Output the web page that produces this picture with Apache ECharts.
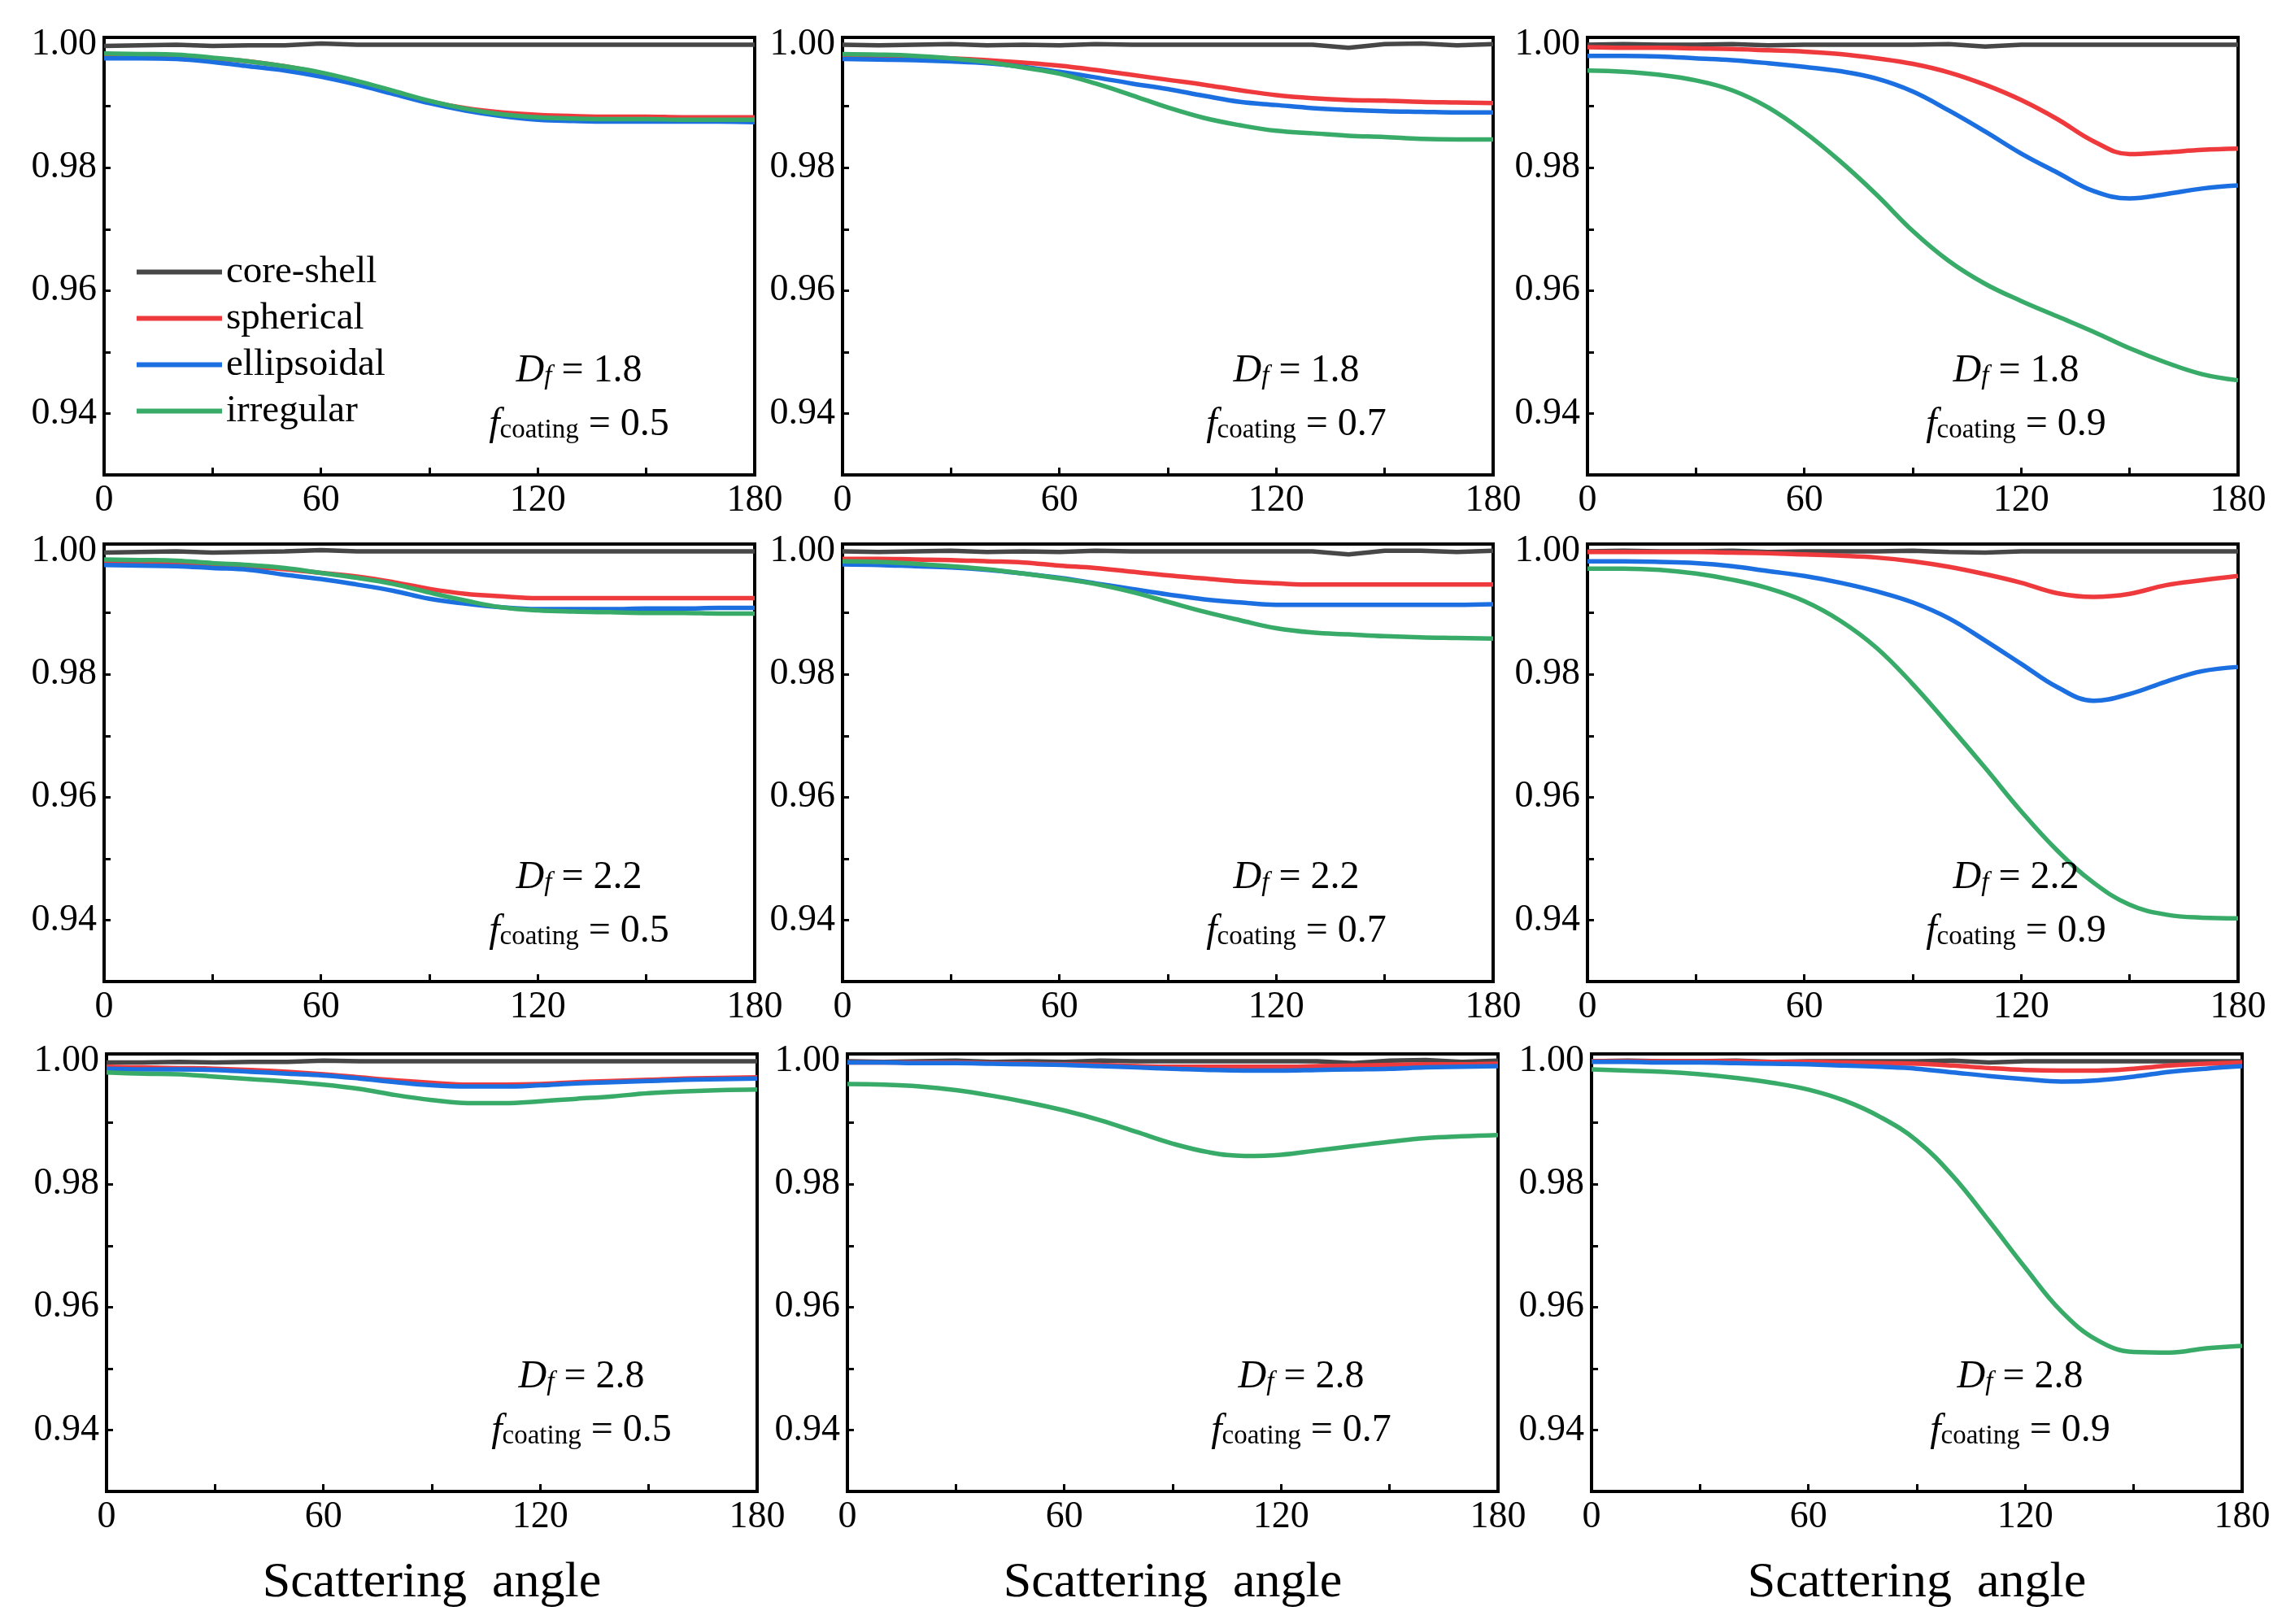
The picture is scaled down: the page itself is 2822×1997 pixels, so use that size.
<!DOCTYPE html>
<html>
<head>
<meta charset="utf-8">
<script src="https://cdn.jsdelivr.net/npm/echarts@6/dist/echarts.min.js"></script>
<style>
  html, body { margin: 0; padding: 0; background: #fff; }
  #chart { width: 2822px; height: 1997px; }
</style>
</head>
<body>
<div id="chart"></div>
<script>
// scattering angle (deg), shared by every curve
var angles = [0,10,20,30,40,50,60,70,80,90,100,110,120,130,140,150,160,170,180];
var names = ['core-shell','spherical','ellipsoidal','irregular'];
var colors = ['#474747','#ef3a3d','#1b6fe0','#38ab69'];
var xTicks = [0,60,120,180];
var yTicks = [0.94,0.96,0.98,1.00];

// Df = 1.8, f = 0.5
var cs_18_05 = [0.9998,0.9999,1.0000,0.9998,0.9999,0.9999,1.0002,1.0000,1.0000,1.0000,1.0000,1.0000,1.0000,1.0000,1.0000,1.0000,1.0000,1.0000,1.0000];
var sp_18_05 = [0.9983,0.9982,0.9981,0.9978,0.9973,0.9965,0.9954,0.9940,0.9923,0.9908,0.9897,0.9890,0.9886,0.9884,0.9883,0.9883,0.9882,0.9882,0.9882];
var el_18_05 = [0.9978,0.9978,0.9977,0.9972,0.9965,0.9958,0.9948,0.9935,0.9920,0.9905,0.9893,0.9884,0.9878,0.9876,0.9875,0.9875,0.9875,0.9875,0.9874];
var ir_18_05 = [0.9986,0.9985,0.9984,0.9979,0.9973,0.9965,0.9955,0.9941,0.9925,0.9909,0.9896,0.9887,0.9882,0.9880,0.9879,0.9879,0.9878,0.9878,0.9878];
// Df = 1.8, f = 0.7
var cs_18_07 = [1.0000,0.9999,1.0000,1.0001,0.9999,1.0000,0.9999,1.0001,1.0000,1.0000,1.0000,1.0000,1.0000,1.0000,0.9995,1.0001,1.0002,0.9999,1.0001];
var sp_18_07 = [0.9982,0.9981,0.9980,0.9978,0.9975,0.9971,0.9966,0.9959,0.9951,0.9943,0.9935,0.9926,0.9918,0.9913,0.9910,0.9909,0.9907,0.9906,0.9905];
var el_18_07 = [0.9977,0.9976,0.9975,0.9973,0.9970,0.9964,0.9956,0.9947,0.9937,0.9928,0.9917,0.9907,0.9902,0.9897,0.9894,0.9892,0.9891,0.9890,0.9890];
var ir_18_07 = [0.9985,0.9984,0.9982,0.9978,0.9972,0.9963,0.9953,0.9937,0.9918,0.9898,0.9881,0.9869,0.9860,0.9856,0.9852,0.9850,0.9847,0.9846,0.9846];
// Df = 1.8, f = 0.9
var cs_18_09 = [1.0000,1.0001,1.0000,1.0000,1.0001,0.9999,1.0000,1.0000,1.0000,1.0000,1.0001,0.9997,1.0000,1.0000,1.0000,1.0000,1.0000,1.0000,1.0000];
var sp_18_09 = [0.9996,0.9995,0.9995,0.9994,0.9993,0.9991,0.9989,0.9985,0.9978,0.9969,0.9955,0.9935,0.9910,0.9879,0.9843,0.9822,0.9825,0.9829,0.9831];
var el_18_09 = [0.9982,0.9982,0.9981,0.9978,0.9975,0.9970,0.9964,0.9957,0.9945,0.9924,0.9893,0.9859,0.9823,0.9792,0.9762,0.9750,0.9757,0.9766,0.9771];
var ir_18_09 = [0.9958,0.9956,0.9951,0.9942,0.9926,0.9898,0.9858,0.9810,0.9756,0.9697,0.9648,0.9611,0.9583,0.9558,0.9533,0.9506,0.9483,0.9464,0.9454];
// Df = 2.2, f = 0.5
var cs_22_05 = [0.9998,0.9999,1.0000,0.9998,0.9999,1.0000,1.0002,1.0000,1.0000,1.0000,1.0000,1.0000,1.0000,1.0000,1.0000,1.0000,1.0000,1.0000,1.0000];
var sp_22_05 = [0.9981,0.9980,0.9979,0.9978,0.9975,0.9971,0.9965,0.9959,0.9950,0.9939,0.9931,0.9927,0.9924,0.9924,0.9924,0.9924,0.9924,0.9924,0.9924];
var el_22_05 = [0.9978,0.9977,0.9976,0.9973,0.9970,0.9962,0.9955,0.9946,0.9936,0.9923,0.9915,0.9909,0.9906,0.9906,0.9906,0.9907,0.9907,0.9908,0.9908];
var ir_22_05 = [0.9987,0.9986,0.9985,0.9981,0.9978,0.9973,0.9965,0.9957,0.9947,0.9933,0.9920,0.9909,0.9904,0.9902,0.9901,0.9900,0.9900,0.9899,0.9899];
// Df = 2.2, f = 0.7
var cs_22_07 = [1.0000,0.9999,1.0000,1.0001,0.9999,1.0000,0.9999,1.0001,1.0000,1.0000,1.0000,1.0000,1.0000,1.0000,0.9995,1.0001,1.0001,0.9999,1.0001];
var sp_22_07 = [0.9988,0.9988,0.9987,0.9986,0.9984,0.9982,0.9977,0.9973,0.9967,0.9961,0.9956,0.9951,0.9948,0.9946,0.9946,0.9946,0.9946,0.9946,0.9946];
var el_22_07 = [0.9979,0.9978,0.9976,0.9974,0.9970,0.9964,0.9957,0.9948,0.9939,0.9930,0.9922,0.9917,0.9913,0.9913,0.9913,0.9913,0.9913,0.9913,0.9914];
var ir_22_07 = [0.9984,0.9983,0.9980,0.9976,0.9971,0.9964,0.9956,0.9947,0.9934,0.9918,0.9902,0.9888,0.9875,0.9868,0.9865,0.9862,0.9860,0.9859,0.9858];
// Df = 2.2, f = 0.9
var cs_22_09 = [1.0000,1.0001,1.0000,1.0000,1.0001,0.9999,1.0000,1.0000,1.0000,1.0001,0.9999,0.9998,1.0000,1.0000,1.0000,1.0000,1.0000,1.0000,1.0000];
var sp_22_09 = [0.9999,0.9999,0.9999,0.9999,0.9998,0.9997,0.9995,0.9993,0.9990,0.9984,0.9975,0.9963,0.9949,0.9932,0.9926,0.9931,0.9945,0.9953,0.9960];
var el_22_09 = [0.9984,0.9984,0.9983,0.9981,0.9976,0.9968,0.9960,0.9949,0.9935,0.9917,0.9891,0.9855,0.9817,0.9779,0.9757,0.9768,0.9788,0.9805,0.9812];
var ir_22_09 = [0.9972,0.9972,0.9970,0.9964,0.9954,0.9940,0.9919,0.9887,0.9843,0.9784,0.9717,0.9648,0.9577,0.9513,0.9461,0.9425,0.9409,0.9404,0.9403];
// Df = 2.8, f = 0.5
var cs_28_05 = [0.9998,0.9998,0.9999,0.9998,0.9999,0.9999,1.0001,1.0000,1.0000,1.0000,1.0000,1.0000,1.0000,1.0000,1.0000,1.0000,1.0000,1.0000,1.0000];
var sp_28_05 = [0.9991,0.9990,0.9989,0.9988,0.9986,0.9983,0.9979,0.9974,0.9969,0.9965,0.9962,0.9962,0.9963,0.9966,0.9968,0.9970,0.9972,0.9973,0.9974];
var el_28_05 = [0.9988,0.9987,0.9987,0.9986,0.9983,0.9980,0.9977,0.9972,0.9966,0.9961,0.9959,0.9959,0.9961,0.9964,0.9966,0.9968,0.9970,0.9971,0.9972];
var ir_28_05 = [0.9982,0.9980,0.9979,0.9975,0.9971,0.9967,0.9962,0.9955,0.9945,0.9937,0.9932,0.9932,0.9935,0.9939,0.9943,0.9948,0.9951,0.9953,0.9954];
// Df = 2.8, f = 0.7
var cs_28_07 = [1.0000,0.9999,1.0000,1.0001,0.9999,1.0000,0.9999,1.0001,1.0000,1.0000,1.0000,1.0000,1.0000,1.0000,0.9997,1.0001,1.0002,0.9999,1.0001];
var sp_28_07 = [0.9998,0.9998,0.9998,0.9998,0.9997,0.9996,0.9995,0.9994,0.9992,0.9991,0.9991,0.9991,0.9991,0.9992,0.9993,0.9994,0.9995,0.9995,0.9996];
var el_28_07 = [0.9998,0.9998,0.9997,0.9997,0.9996,0.9995,0.9994,0.9992,0.9990,0.9988,0.9986,0.9985,0.9985,0.9986,0.9987,0.9988,0.9990,0.9991,0.9992];
var ir_28_07 = [0.9963,0.9962,0.9959,0.9953,0.9944,0.9933,0.9920,0.9904,0.9885,0.9866,0.9852,0.9846,0.9848,0.9855,0.9862,0.9869,0.9875,0.9878,0.9880];
// Df = 2.8, f = 0.9
var cs_28_09 = [1.0000,1.0001,1.0000,1.0000,1.0001,0.9999,1.0000,1.0000,1.0000,1.0000,1.0001,0.9998,1.0000,1.0000,1.0000,1.0000,1.0000,1.0000,1.0000];
var sp_28_09 = [1.0000,1.0000,1.0000,1.0000,1.0000,0.9999,0.9999,0.9998,0.9997,0.9996,0.9993,0.9989,0.9986,0.9985,0.9985,0.9988,0.9993,0.9996,0.9998];
var el_28_09 = [0.9999,0.9999,0.9998,0.9998,0.9997,0.9996,0.9995,0.9993,0.9991,0.9988,0.9982,0.9976,0.9971,0.9967,0.9969,0.9975,0.9983,0.9988,0.9992];
var ir_28_09 = [0.9987,0.9985,0.9983,0.9979,0.9973,0.9965,0.9954,0.9936,0.9909,0.9871,0.9813,0.9740,0.9664,0.9593,0.9546,0.9527,0.9526,0.9533,0.9537];

var panels = [
  {df:'1.8', fc:'0.5', lines:[cs_18_05, sp_18_05, el_18_05, ir_18_05]},
  {df:'1.8', fc:'0.7', lines:[cs_18_07, sp_18_07, el_18_07, ir_18_07]},
  {df:'1.8', fc:'0.9', lines:[cs_18_09, sp_18_09, el_18_09, ir_18_09]},
  {df:'2.2', fc:'0.5', lines:[cs_22_05, sp_22_05, el_22_05, ir_22_05]},
  {df:'2.2', fc:'0.7', lines:[cs_22_07, sp_22_07, el_22_07, ir_22_07]},
  {df:'2.2', fc:'0.9', lines:[cs_22_09, sp_22_09, el_22_09, ir_22_09]},
  {df:'2.8', fc:'0.5', lines:[cs_28_05, sp_28_05, el_28_05, ir_28_05]},
  {df:'2.8', fc:'0.7', lines:[cs_28_07, sp_28_07, el_28_07, ir_28_07]},
  {df:'2.8', fc:'0.9', lines:[cs_28_09, sp_28_09, el_28_09, ir_28_09]}
];

var FONT = 'Liberation Serif';
var gridLefts = [[128,1036,1952],[128,1036,1952],[131,1042,1957]];
var gridTops = [46,669,1296];
var annoDx = [584,558,527];

function buildOption() {
  var grids=[], xAxes=[], yAxes=[], series=[], graphics=[];
  var mainTok = {fontFamily:FONT, fontSize:48, lineHeight:48, verticalAlign:'bottom', fill:'#000'};
  panels.forEach(function(p, k) {
    var row = Math.floor(k/3), col = k%3;
    var gLeft = gridLefts[row][col], gTop = gridTops[row];
    grids.push({left:gLeft, top:gTop, width:800, height:538, show:true,
      borderColor:'#000', borderWidth:4, backgroundColor:'transparent'});
    xAxes.push({
      type:'value', gridIndex:k, min:0, max:180, interval:30,
      axisLine:{show:true, onZero:false, lineStyle:{color:'#000', width:4}},
      axisTick:{show:true, inside:true, length:9, lineStyle:{color:'#000', width:3}},
      splitLine:{show:false},
      axisLabel:{show:true, margin:9, fontFamily:FONT, fontSize:46, color:'#000',
        showMinLabel:true, showMaxLabel:true,
        formatter:function(v){ return xTicks.indexOf(Math.round(v))>=0 ? String(Math.round(v)) : ''; }},
      name: row===2 ? 'Scattering  angle' : '',
      nameLocation:'middle', nameGap:82,
      nameTextStyle:{fontFamily:FONT, fontSize:62, color:'#000'}
    });
    yAxes.push({
      type:'value', gridIndex:k, min:0.93, max:1.0012, interval:0.01,
      axisLine:{show:true, onZero:false, lineStyle:{color:'#000', width:4}},
      axisTick:{show:true, inside:true, length:8, lineStyle:{color:'#000', width:3}},
      splitLine:{show:false},
      axisLabel:{show:true, margin:9, fontFamily:FONT, fontSize:46, color:'#000',
        showMinLabel:true, showMaxLabel:true,
        formatter:function(v){
          for (var t=0;t<yTicks.length;t++) if (Math.abs(v-yTicks[t])<0.0004) return yTicks[t].toFixed(2);
          return '';
        }}
    });
    p.lines.forEach(function(arr, s) {
      series.push({
        type:'line', name:names[s], xAxisIndex:k, yAxisIndex:k,
        data: angles.map(function(a,i){ return [a, arr[i]]; }),
        showSymbol:false, smooth: s===0 ? false : 0.4,
        lineStyle:{color:colors[s], width:5.5}, itemStyle:{color:colors[s]},
        animation:false, silent:true
      });
    });
    var cx = gLeft + annoDx[col];
    var y1 = gTop + (row===2 ? 397 : 410);
    var y2 = gTop + (row===2 ? 463 : 476);
    graphics.push({
      type:'text', x:cx, y:y1, z:100,
      style:{
        text:'{i|D}{s|f}{n| = ' + p.df + '}',
        align:'center', verticalAlign:'middle',
        rich:{
          i:Object.assign({fontStyle:'italic'}, mainTok),
          s:{fontFamily:FONT, fontStyle:'italic', fontSize:33, lineHeight:18, verticalAlign:'bottom', fill:'#000'},
          n:mainTok
        }
      }
    });
    graphics.push({
      type:'text', x:cx, y:y2, z:100,
      style:{
        text:'{i|f}{s|coating}{n| = ' + p.fc + '}',
        align:'center', verticalAlign:'middle',
        rich:{
          i:Object.assign({fontStyle:'italic'}, mainTok),
          s:{fontFamily:FONT, fontSize:33, lineHeight:18, verticalAlign:'bottom', fill:'#000'},
          n:mainTok
        }
      }
    });
  });
  return {
    backgroundColor:'#fff',
    animation:false,
    grid:grids,
    xAxis:xAxes,
    yAxis:yAxes,
    legend:{
      data:names, orient:'vertical', left:163, top:306,
      icon:'rect', itemWidth:105, itemHeight:6, itemGap:10,
      selectedMode:false,
      textStyle:{fontFamily:FONT, fontSize:47, lineHeight:47, color:'#000'}
    },
    series:series,
    graphic:graphics
  };
}

var chart = echarts.init(document.getElementById('chart'));
chart.setOption(buildOption());
</script>
</body>
</html>
